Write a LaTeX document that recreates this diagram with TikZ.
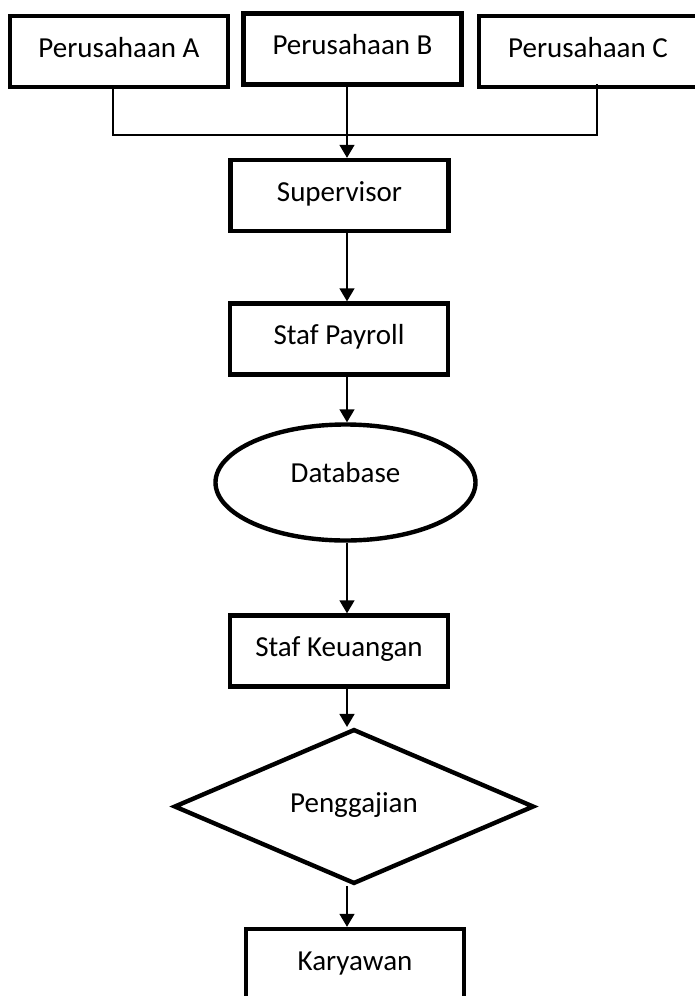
\documentclass[tikz,border=0pt]{standalone}
\usepackage{fontspec}
\setmainfont{Carlito}
\usetikzlibrary{arrows.meta,shapes.geometric}

\tikzset{
    box/.style={draw, line width=2.2pt, minimum width=109pt, minimum height=35.5pt,
        inner sep=0pt, text height=9.5pt, text depth=4pt, font=\fontsize{14.5}{17}\selectfont},
    conn/.style={line width=0.75pt},
    arr/.style={conn, -{Triangle[length=6.5pt, width=7.5pt]}}
}

\begin{document}
\begin{tikzpicture}[x=0.5pt, y=-0.5pt]
    \useasboundingbox (0,0) rectangle (695,996);

    % Draw the three companies
    \node[box] (pa) at (119,51.5) {Perusahaan A};
    \node[box, line width=2.8pt] (pb) at (352.5,49) {Perusahaan B};
    \node[box] (pc) at (588,51.5) {Perusahaan C};

    % Draw the flow steps
    \node[box] (sup) at (339.5,195.5) {Supervisor};
    \node[box] (pay) at (339,339) {Staf Payroll};
    \node[box, ellipse, minimum width=130pt, minimum height=58pt, text depth=10pt] (db) at (345.5,482.5) {Database};
    \node[box] (keu) at (339,651) {Staf Keuangan};
    \node[box, diamond, minimum width=180pt, minimum height=69pt] (gaji) at (354,806.5) {Penggajian};
    \node[box] (kar) at (355,964.5) {Karyawan};

    % Join line under the companies
    \coordinate (axis) at (347,0);
    \coordinate (jA) at (113,135);
    \coordinate (jC) at (597,135);
    \draw[conn] (pa.south -| jA) -- (jA) -- (jC) -- ([yshift=2.5pt]pc.south -| jC);

    % Draw the arrows
    \draw[arr] (pb.south -| axis) -- (sup.north -| axis);
    \draw[arr] (sup.south -| axis) -- (pay.north -| axis);
    \draw[arr] (pay.south -| axis) -- (db.north -| axis);
    \draw[arr] (db.south -| axis) -- (keu.north -| axis);
    \draw[arr] (keu.south -| axis) -- (gaji.north -| axis);
    \draw[arr] (gaji.south -| axis) -- (kar.north -| axis);
\end{tikzpicture}
\end{document}
